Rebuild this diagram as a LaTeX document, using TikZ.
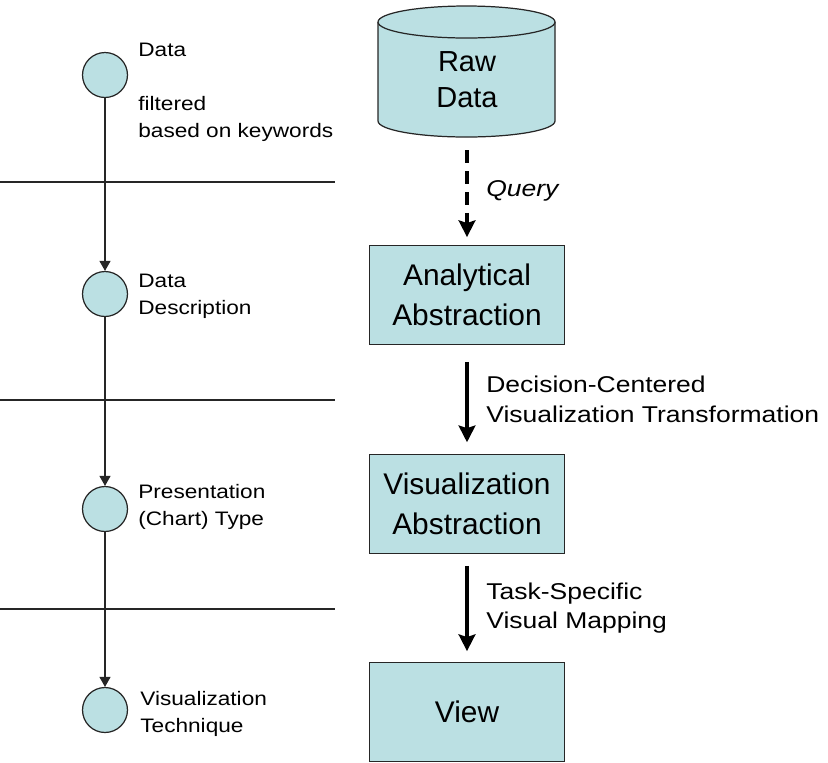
\documentclass[tikz,border=0pt]{standalone}
\usepackage{fontspec}
\setmainfont{Liberation Sans}
\newfontfamily\widesans{Liberation Sans}[FakeStretch=1.16]
\usetikzlibrary{arrows.meta,positioning}
\definecolor{stagefill}{RGB}{187,224,227}
\newcommand{\edgecol}{black!85}

\tikzset{
    stage/.style = {draw=\edgecol, line width=0.7pt, fill=stagefill,
        minimum width=111pt, minimum height=56pt, align=center,
        font=\fontsize{17}{22.6}\selectfont},
    level/.style = {circle, draw=\edgecol, line width=0.7pt, fill=stagefill,
        minimum size=25.6pt, inner sep=0pt},
    levellabel/.style = {anchor=north west, inner sep=0pt, align=left,
        font=\widesans\fontsize{11.1}{15.4}\selectfont},
    steplabel/.style = {right=10pt, inner sep=0pt, align=left,
        font=\widesans\fontsize{13}{16.8}\selectfont},
    flow/.style = {line width=2pt, -{Stealth[length=9.5pt,width=9.5pt,inset=1.5pt]}},
    down/.style = {line width=0.7pt, \edgecol, -{Triangle[length=5.7pt,width=6.3pt]}}
}

\begin{document}
\begin{tikzpicture}[x=0.02cm, y=-0.02cm]
    \useasboundingbox (0,0) rectangle (828,762);

    % raw data store
    \fill[stagefill] (378,22) -- (378,121) arc[start angle=180, end angle=0, x radius=88.5, y radius=16] -- (555,22) -- cycle;
    \draw[\edgecol, line width=0.7pt] (378,22) -- (378,121) arc[start angle=180, end angle=0, x radius=88.5, y radius=16] -- (555,22);
    \draw[\edgecol, line width=0.7pt, fill=stagefill] (466.5,22) ellipse[x radius=88.5, y radius=16];
    \node[minimum width=100pt, minimum height=75pt, inner sep=0pt] (raw) at (467,71) {};
    \node[align=center, font=\fontsize{16.5}{20.5}\selectfont] (rawtext) at (467,80) {Raw\\Data};

    % pipeline stages
    \node[stage] (analytic) at (467,295) {Analytical\\Abstraction};
    \node[stage] (visabs) at (467,504) {Visualization\\Abstraction};
    \node[stage] (view) at (467,712) {View};

    \draw[flow, dash pattern=on 7.4pt off 4.5pt, shorten <=7.4pt, shorten >=4.6pt]
        (raw.south) -- node[steplabel, font=\widesans\fontsize{13}{16.8}\itshape] {Query} (analytic.north);
    \draw[flow, shorten <=9.7pt, shorten >=6.8pt]
        (analytic.south) -- node[steplabel] {Decision-Centered\\Visualization Transformation} (visabs.north);
    \draw[flow, shorten <=6.8pt, shorten >=6.3pt]
        (visabs.south) -- node[steplabel] {Task-Specific\\Visual Mapping} (view.north);

    % levels on the left
    \node[level] (l1) at (105,75) {};
    \node[level] (l2) at (105,294) {};
    \node[level] (l3) at (105,509) {};
    \node[level] (l4) at (105,710) {};

    \node[levellabel] (t1) at (138,43) {Data\\[15.4pt]filtered\\based on keywords};
    \node[levellabel] (t2) at (138,274) {Data\\Description};
    \node[levellabel] (t3) at (138,484) {Presentation\\(Chart) Type};
    \node[levellabel] (t4) at (140,691) {Visualization\\Technique};

    \draw[down] (l1) -- (l2);
    \draw[down] (l2) -- (l3);
    \draw[down] (l3) -- (l4);

    % separators
    \foreach \y in {182,400,609}
        \draw[\edgecol, line width=0.7pt] (0,\y) -- (335,\y);
\end{tikzpicture}
\end{document}
